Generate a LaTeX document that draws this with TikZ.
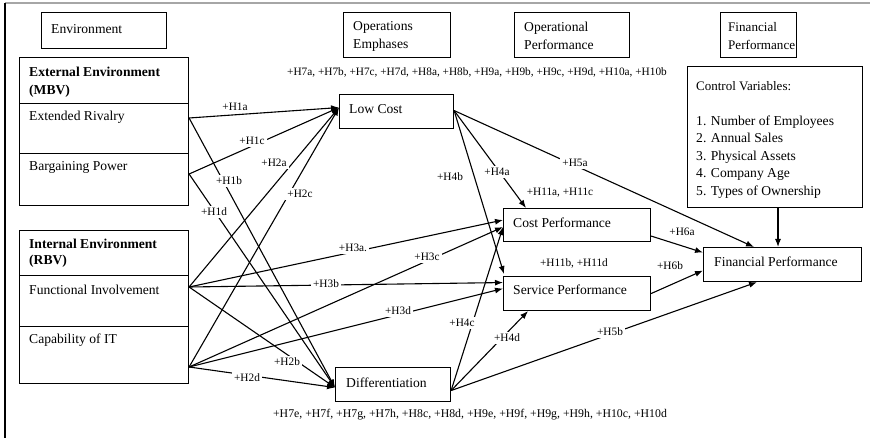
\documentclass[tikz,border=0pt]{standalone}
\usepackage{fontspec}
\setmainfont{Liberation Serif}
\usetikzlibrary{arrows.meta,calc}
\newcommand\fmain{\fontsize{13.6}{18}\selectfont}
\newcommand\flbl{\fontsize{11.3}{13}\selectfont}
\begin{document}
\begin{tikzpicture}[x=1pt,y=-1pt,
  bx/.style={draw, line width=1.1pt, inner sep=0pt, anchor=north west},
  tx/.style={font=\fmain, inner sep=0pt, anchor=west, align=left},
  lbl/.style={font=\flbl, fill=white, inner sep=2pt},
  ar/.style={line width=1.1pt, -{Latex[length=8pt,width=6pt]}}]
\useasboundingbox (0,0) rectangle (870,438);
% frame
\draw[gray!70, line width=1.6pt] (5,3) -- (870,3);
\draw[line width=1.1pt] (5,3) -- (5,438);
% header boxes
\node[bx, minimum width=125pt, minimum height=36pt] (env) at (41,12) {};
\node[tx] (envt) at (51,29) {Environment};
\node[bx, minimum width=107pt, minimum height=45pt] (ope) at (343,12) {};
\node[tx] (opet) at (353,36) {Operations\\Emphases};
\node[bx, minimum width=115pt, minimum height=45pt] (opp) at (514,12) {};
\node[tx] (oppt) at (524,36) {Operational\\Performance};
\node[bx, minimum width=76pt, minimum height=45pt] (fph) at (720,12) {};
\node[tx, font=\fontsize{13.1}{18}\selectfont] (fpht) at (728,36) {Financial\\Performance};
% external environment
\node[bx, minimum width=169pt, minimum height=46pt] (exth) at (19,57) {};
\node[tx, font=\fmain\bfseries] (extht) at (29,82) {External Environment\\(MBV)};
\node[bx, minimum width=169pt, minimum height=50pt] (ER) at (19,103) {};
\node[tx] (ERt) at (29,117) {Extended Rivalry};
\node[bx, minimum width=169pt, minimum height=52pt] (BP) at (19,153) {};
\node[tx] (BPt) at (29,167) {Bargaining Power};
% internal environment
\node[bx, minimum width=169pt, minimum height=45pt] (inth) at (19,230) {};
\node[tx, font=\fontsize{13.6}{16.5}\selectfont\bfseries] (intht) at (29,253) {Internal Environment\\(RBV)};
\node[bx, minimum width=169pt, minimum height=51pt] (FI) at (19,275) {};
\node[tx] (FIt) at (29,290) {Functional Involvement};
\node[bx, minimum width=169pt, minimum height=57pt] (CI) at (19,326) {};
\node[tx] (CIt) at (29,340) {Capability of IT};
% operations emphases
\node[bx, minimum width=114pt, minimum height=34pt] (LC) at (339,94) {};
\node[tx] (LCt) at (349,109) {Low Cost};
\node[bx, minimum width=115pt, minimum height=34pt] (DF) at (335,367) {};
\node[tx] (DFt) at (346,383) {Differentiation};
% operational performance
\node[bx, minimum width=147pt, minimum height=33pt] (CP) at (503,208) {};
\node[tx] (CPt) at (513,223) {Cost Performance};
\node[bx, minimum width=147pt, minimum height=34pt] (SP) at (503,276) {};
\node[tx] (SPt) at (513,290) {Service Performance};
% financial performance
\node[bx, minimum width=158pt, minimum height=34pt] (FP) at (703,247) {};
\node[tx] (FPt) at (714,262) {Financial Performance};
\node[bx, minimum width=175pt, minimum height=141pt] (CV) at (687,66) {};
\node[tx, font=\fontsize{13}{17.5}\selectfont] (CVh) at (696,86) {Control Variables:};
\node[tx, font=\fontsize{13.6}{17.5}\selectfont] (CVl) at (696,157) {1. Number of Employees\\2. Annual Sales\\3. Physical Assets\\4. Company Age\\5. Types of Ownership};
% ports
\coordinate (sER) at ($(ER.north east)+(0,15)$);
\coordinate (sBP) at ($(BP.north east)+(0,21)$);
\coordinate (sFI) at ($(FI.north east)+(0,12)$);
\coordinate (sCI) at ($(CI.north east)+(0,41)$);
\coordinate (tLC) at ($(LC.west)+(0,-4)$);
\coordinate (sLC) at ($(LC.east)+(0,-1)$);
\coordinate (tDF) at ($(DF.west)+(0,3)$);
\coordinate (sDF) at ($(DF.east)+(0,6)$);
\coordinate (tCPa) at ($(CP.west)+(0,-5)$);
\coordinate (tCPc) at ($(CP.west)+(0,2)$);
\coordinate (tCPt) at ($(CP.north west)+(23,0)$);
\coordinate (sCP) at ($(CP.east)+(0,11)$);
\coordinate (tSPb) at ($(SP.west)+(0,-11)$);
\coordinate (tSPd) at ($(SP.west)+(0,-5)$);
\coordinate (tSPt) at ($(SP.north west)+(1,-2)$);
\coordinate (tSPs) at ($(SP.south west)+(25,0)$);
\coordinate (sSP) at (SP.east);
\coordinate (tFPa) at ($(FP.west)+(0,-12)$);
\coordinate (tFPb) at ($(FP.west)+(0,6)$);
\coordinate (tFPn) at ($(FP.north west)+(51,0)$);
\coordinate (tFPc) at ($(FP.north west)+(75,0)$);
\coordinate (tFPs) at ($(FP.south west)+(54,0)$);
\coordinate (sCV) at ($(CV.south west)+(91,0)$);
% connectors
\draw[ar] (sER) -- (tLC);
\draw[ar] (sBP) -- (tLC);
\draw[ar] (sFI) -- (tLC);
\draw[ar] (sCI) -- (tLC);
\draw[ar] (sER) -- (tDF);
\draw[ar] (sBP) -- (tDF);
\draw[ar] (sFI) -- (tDF);
\draw[ar] (sCI) -- (tDF);
\draw[ar] (sFI) -- (tCPa);
\draw[ar] (sFI) -- (tSPb);
\draw[ar] (sCI) -- (tCPc);
\draw[ar] (sCI) -- (tSPd);
\draw[ar] (sLC) -- (tCPt);
\draw[ar] (sLC) -- (tSPt);
\draw[ar] (sDF) -- (tCPc);
\draw[ar] (sDF) -- (tSPs);
\draw[ar] (sLC) -- (tFPn);
\draw[ar] (sDF) -- (tFPs);
\draw[ar] (sCP) -- (tFPa);
\draw[ar] (sSP) -- (tFPb);
\draw[ar] (sCV) -- (tFPc);
% labels
\node[lbl] (h1a) at (235,107) {+H1a};
\node[lbl] (h1c) at (252,141) {+H1c};
\node[lbl] (h2a) at (274,163) {+H2a};
\node[lbl] (h2c) at (300,194) {+H2c};
\node[lbl] (h1b) at (229,181) {+H1b};
\node[lbl] (h1d) at (214,212) {+H1d};
\node[lbl] (h2b) at (287,362) {+H2b};
\node[lbl] (h2d) at (247,378) {+H2d};
\node[lbl] (h3a) at (353,248) {+H3a.};
\node[lbl] (h3b) at (326,284) {+H3b};
\node[lbl] (h3c) at (427,257) {+H3c};
\node[lbl] (h3d) at (398,311) {+H3d};
\node[lbl] (h4a) at (497,172) {+H4a};
\node[lbl] (h4b) at (450,177) {+H4b};
\node[lbl] (h4c) at (462,323) {+H4c};
\node[lbl] (h4d) at (507,338) {+H4d};
\node[lbl] (h5a) at (575,163) {+H5a};
\node[lbl] (h5b) at (610,332) {+H5b};
\node[lbl] (h6a) at (682,232) {+H6a};
\node[lbl] (h6b) at (670,266) {+H6b};
\node[lbl] (h11a) at (560,193) {+H11a, +H11c};
\node[lbl] (h11b) at (574,263) {+H11b, +H11d};
\node[lbl] (h7top) at (477,72) {+H7a, +H7b, +H7c, +H7d, +H8a, +H8b, +H9a, +H9b, +H9c, +H9d, +H10a, +H10b};
\node[lbl, font=\fontsize{11.8}{13}\selectfont] (h7bot) at (470,415) {+H7e, +H7f, +H7g, +H7h, +H8c, +H8d, +H9e, +H9f, +H9g, +H9h, +H10c, +H10d};
\end{tikzpicture}
\end{document}
